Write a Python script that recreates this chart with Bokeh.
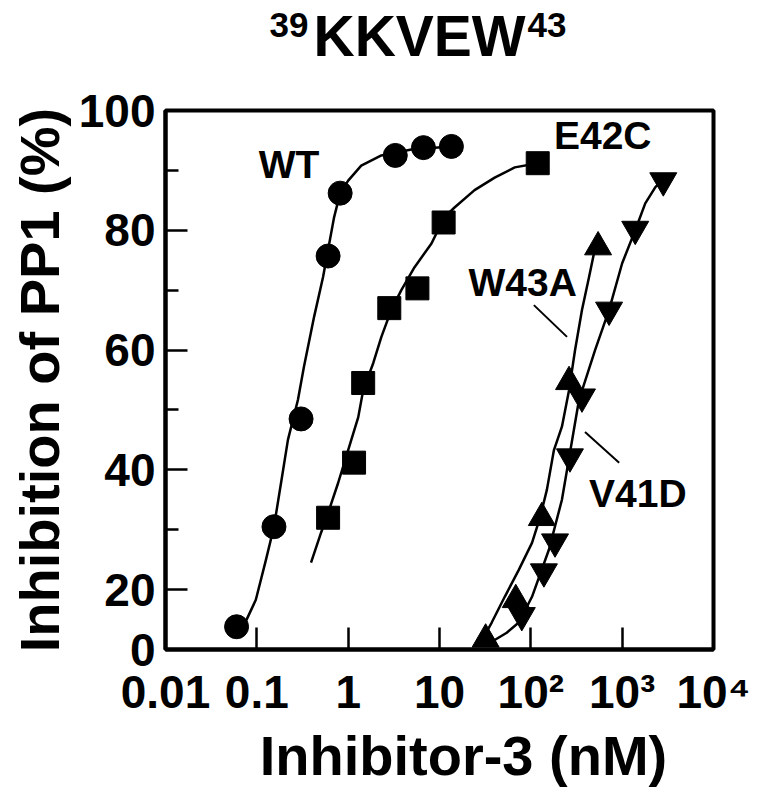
from bokeh.plotting import figure
from bokeh.models import Range1d, FixedTicker, Label
from bokeh.layouts import column
from bokeh.embed import file_html
from bokeh.resources import INLINE

# ---- data (x: Inhibitor-3 nM, y: Inhibition %) ----
wt_x = [0.060, 0.154, 0.305, 0.603, 0.817, 3.28, 6.67, 13.5]
wt_y = [13.8, 30.5, 48.5, 75.7, 86.2, 92.5, 93.8, 94.0]

e42c_x = [0.603, 1.16, 1.46, 2.82, 5.73, 11.1, 119]
e42c_y = [32.0, 41.2, 54.5, 67.0, 70.3, 81.3, 91.2]

w43a_x = [32.0, 68.4, 132, 262, 545]
w43a_y = [11.7, 18.3, 32.0, 54.7, 77.2]

v41d_x = [79.6, 139, 184, 268, 363, 719, 1390, 2820]
v41d_y = [15.7, 23.0, 28.0, 42.2, 52.2, 66.7, 80.2, 88.3]

# fitted curves
wt_fit_x = [0.0757, 0.0975, 0.126, 0.154, 0.184, 0.219, 0.282, 0.328, 0.423,
            0.531, 0.702, 0.817, 1.0, 1.39, 2.31, 4.92, 13.5]
wt_fit_y = [14.7, 18.3, 25.0, 30.5, 37.8, 45.0, 51.7, 57.2, 65.5,
            72.2, 82.2, 86.2, 88.3, 90.8, 92.5, 93.5, 94.0]

e42c_fit_x = [0.392, 0.505, 0.603, 0.776, 1.0, 1.29, 1.46, 1.88, 2.31, 2.97,
              3.82, 5.31, 8.17, 11.3, 14.6, 24.2, 40.2, 66.7, 119]
e42c_fit_y = [24.5, 29.5, 32.8, 37.8, 43.3, 48.8, 53.3, 57.8, 62.2, 66.7,
              70.0, 73.8, 77.8, 82.2, 83.8, 86.7, 88.8, 90.5, 91.2]

w43a_fit_x = [26.8, 37.3, 51.8, 73.8, 103, 126, 150, 179, 219, 262, 305, 363, 434, 492]
w43a_fit_y = [10.5, 14.5, 18.8, 23.3, 27.8, 32.0, 36.7, 43.3, 47.2, 53.3, 60.0, 66.7, 72.2, 76.2]

v41d_fit_x = [37.3, 54.5, 73.8, 103, 158, 219, 337, 505, 719, 1000, 1390, 1790, 2310, 2900]
v41d_fit_y = [11.3, 12.8, 14.5, 18.8, 26.7, 35.0, 51.7, 60.0, 66.7, 74.5, 80.0, 84.5, 87.2, 88.7]

# tick values and labels
x_ticks = [0.01, 0.1, 1, 10, 100, 1000, 10000]
x_tick_labels = ["0.01", "0.1", "1", "10", "10\u00b2", "10\u00b3", "10\u2074"]
y_ticks = [10, 20, 40, 60, 80, 100]
y_minor = [30, 50, 70, 90]
y_tick_labels = {10: "0"}

title_main = "KKVEW"
title_pre = "39"
title_post = "43"
x_title = "Inhibitor-3 (nM)"
y_title = "Inhibition of PP1 (%)"

series_names = ["WT", "E42C", "W43A", "V41D"]
name_x = [0.105, 179, 20.8, 434]
name_y = [91.0, 95.75, 71.25, 36.0]

pointer_w43a_x = [108, 249]
pointer_w43a_y = [67.5, 62.2]
pointer_v41d_x = [392, 927]
pointer_v41d_y = [46.3, 41.2]

FONT = "Liberation Sans"
W = 764
TOP_H, MAIN_H, BOT_H = 70, 650, 79
LEFT, RIGHT = 165, 51

# ---------------- main plot ----------------
p = figure(width=W, height=MAIN_H, x_axis_type="log",
           x_range=Range1d(0.01, 10000), y_range=Range1d(10, 100),
           output_backend="svg", toolbar_location=None, title=None,
           min_border_left=LEFT, min_border_right=RIGHT,
           min_border_top=40, min_border_bottom=71)
p.grid.visible = False
p.outline_line_color = "black"
p.outline_line_width = 4
p.background_fill_color = "white"
p.border_fill_color = "white"

xa = p.xaxis[0]
xa.ticker = FixedTicker(ticks=x_ticks)
xa.major_label_overrides = dict(zip(x_ticks, x_tick_labels))
xa.axis_line_width = 4
xa.major_tick_in = 22
xa.major_tick_out = 0
xa.major_tick_line_width = 2.5
xa.minor_tick_line_color = None
xa.major_label_text_font = FONT
xa.major_label_text_font_style = "bold"
xa.major_label_text_font_size = "46px"
xa.major_label_text_color = "black"
xa.major_label_standoff = 16

ya = p.yaxis[0]
ya.ticker = FixedTicker(ticks=y_ticks, minor_ticks=y_minor)
ya.major_label_overrides = y_tick_labels
ya.axis_line_width = 4
ya.major_tick_in = 22
ya.major_tick_out = 0
ya.minor_tick_in = 13
ya.minor_tick_out = 0
ya.major_tick_line_width = 2.5
ya.minor_tick_line_width = 2.5
ya.major_label_text_font = FONT
ya.major_label_text_font_style = "bold"
ya.major_label_text_font_size = "46px"
ya.major_label_text_color = "black"
ya.major_label_standoff = 10
ya.axis_label = y_title
ya.axis_label_text_font = FONT
ya.axis_label_text_font_style = "bold"
ya.axis_label_text_font_size = "56px"
ya.axis_label_text_color = "black"
ya.axis_label_standoff = 5

for fx, fy in [(wt_fit_x, wt_fit_y), (e42c_fit_x, e42c_fit_y),
               (w43a_fit_x, w43a_fit_y), (v41d_fit_x, v41d_fit_y)]:
    p.line(fx, fy, line_color="black", line_width=2.5)

p.scatter(wt_x, wt_y, marker="circle", size=24, color="black")
p.scatter(e42c_x, e42c_y, marker="square", size=23, color="black")
p.scatter(w43a_x, w43a_y, marker="triangle", size=27, color="black")
p.scatter(v41d_x, v41d_y, marker="inverted_triangle", size=27, color="black")

p.line(pointer_w43a_x, pointer_w43a_y, line_color="black", line_width=2)
p.line(pointer_v41d_x, pointer_v41d_y, line_color="black", line_width=2)

for t, lx, ly in zip(series_names, name_x, name_y):
    p.add_layout(Label(x=lx, y=ly, text=t, text_font=FONT, text_font_style="bold",
                       text_font_size="39px", text_align="left",
                       text_baseline="middle", text_color="black"))


def strip(height):
    # text strip whose frame lines up with the main plot's frame (page pixels)
    s = figure(width=W, height=height, x_range=Range1d(LEFT, W - RIGHT),
               y_range=Range1d(0, height), output_backend="svg",
               toolbar_location=None, title=None,
               x_axis_location=None, y_axis_location=None,
               min_border_left=LEFT, min_border_right=RIGHT,
               min_border_top=0, min_border_bottom=0)
    s.grid.visible = False
    s.outline_line_color = None
    return s


# ---------------- title strip ----------------
top = strip(TOP_H)
top.add_layout(Label(x=313, y=35, text=title_main, text_font=FONT, text_font_style="bold",
                     text_font_size="57px", text_align="left", text_baseline="middle",
                     text_color="black"))
top.add_layout(Label(x=308, y=45.5, text=title_pre, text_font=FONT, text_font_style="bold",
                     text_font_size="35px", text_align="right", text_baseline="middle",
                     text_color="black"))
top.add_layout(Label(x=527, y=45.5, text=title_post, text_font=FONT, text_font_style="bold",
                     text_font_size="35px", text_align="left", text_baseline="middle",
                     text_color="black"))

# ---------------- x-axis title strip ----------------
bot = strip(BOT_H)
bot.add_layout(Label(x=463, y=44, text=x_title, text_font=FONT, text_font_style="bold",
                     text_font_size="56px", text_align="center", text_baseline="middle",
                     text_color="black"))

layout = column(top, p, bot, spacing=0)
open("out.html", "w").write(file_html(layout, INLINE))
